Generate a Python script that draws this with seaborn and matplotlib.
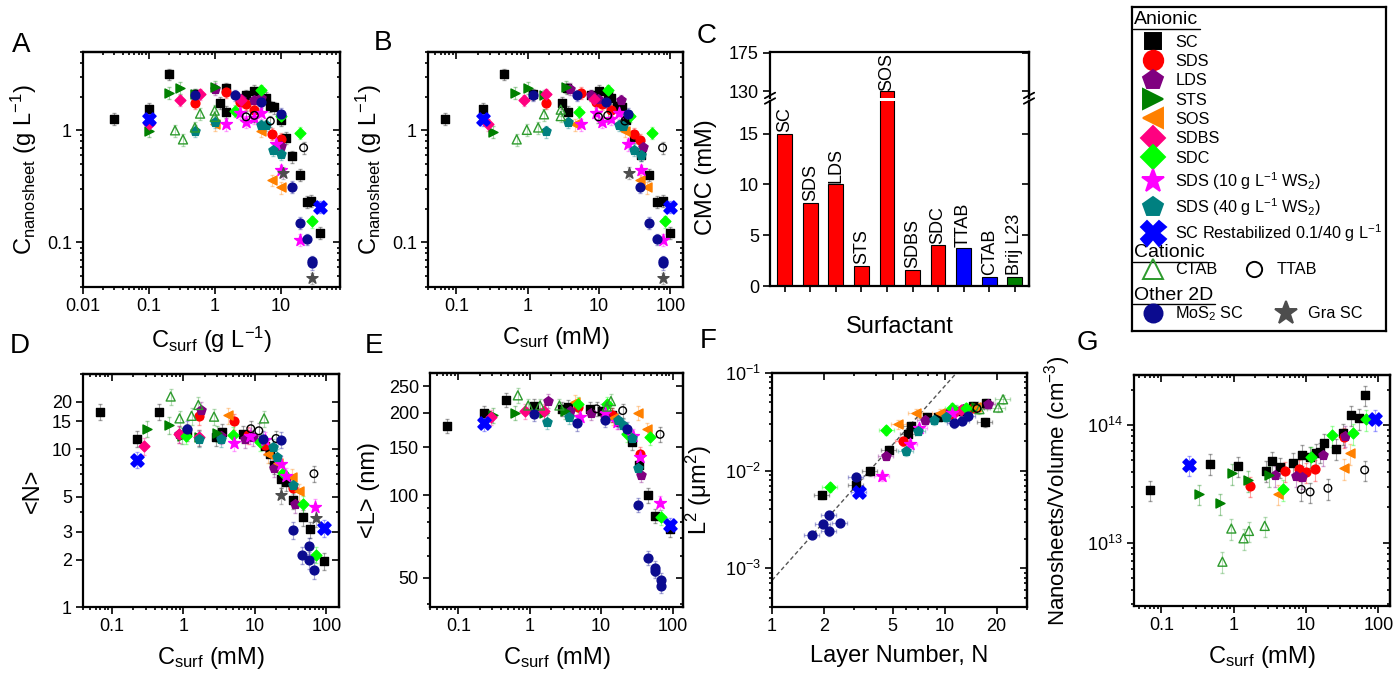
import numpy as np
import pandas as pd
import matplotlib
matplotlib.use('Agg')
import matplotlib.pyplot as plt
from matplotlib.lines import Line2D
from matplotlib.ticker import NullFormatter
import seaborn as sns

# ---------------- data ----------------
# Panel A: C_nanosheet (g/L) vs C_surf (g/L)
a_sc = [(0.03, 1.27), (0.1, 1.56), (0.2, 3.17), (0.5, 2.1), (1.2, 1.76), (1.5, 2.38), (1.5, 1.46), (3, 2.06),
        (4, 2.25), (6, 1.96), (7, 1.64), (8, 1.6), (10, 1.23), (12, 0.86), (15, 0.585), (20, 0.403),
        (25, 0.231), (29, 0.235), (40, 0.122)]
a_sds = [(0.5, 1.76), (1.5, 2.2), (2.4, 1.79), (3, 1.71), (4, 1.51), (7.5, 0.93), (10, 0.84)]
a_lds = [(1.0, 2.36), (2.5, 1.9), (4, 1.85), (5, 1.95), (10, 0.72)]
a_sts = [(0.1, 0.99), (0.2, 2.16), (0.3, 2.39), (0.5, 2.1), (1.0, 2.44)]
a_sos = [(1.0, 1.13), (5, 0.99), (7.5, 0.36), (10, 0.31)]
a_sdbs = [(0.1, 1.15), (0.3, 1.86), (0.6, 2.1), (2.5, 1.88)]
a_sdc = [(2, 1.49), (5, 2.28), (10, 1.34), (20, 0.95), (30, 0.154)]
a_sds10 = [(1.5, 1.13), (2.4, 1.43), (3, 1.19), (4, 1.29), (5, 1.43), (8.5, 0.75), (10, 0.44), (20, 0.106)]
a_sds40 = [(0.5, 0.99), (1.0, 1.19), (5, 1.11), (6, 1.11), (7.8, 0.67), (10, 0.62)]
a_scr = [(0.1, 1.25), (40, 0.209)]
a_ctab = [(0.25, 1.0), (0.33, 0.83), (0.5, 1.06), (0.6, 1.41), (1.0, 1.5), (1.0, 1.32)]
a_ttab = [(3, 1.32), (4, 1.36), (7, 1.21), (22.4, 0.7)]
a_mos2 = [(0.5, 2.06), (2, 2.06), (5, 1.79), (10, 1.4), (15, 0.315), (20, 0.149), (25, 0.107), (30, 0.068),
          (30, 0.065)]
a_gra = [(11, 0.42), (30, 0.048)]

# Panel B: C_nanosheet (g/L) vs C_surf (mM)
b_sc = [(0.07, 1.27), (0.233, 1.56), (0.47, 3.17), (1.18, 2.1), (3.0, 1.76), (3.5, 2.38), (3.65, 1.46),
        (7.6, 2.06), (10, 2.25), (13.2, 2.06), (14.7, 1.96), (17.9, 1.64), (21, 1.6), (24, 1.23),
        (30.6, 0.87), (39, 0.6), (50.7, 0.4), (64.6, 0.23), (77.6, 0.235), (100, 0.122)]
b_sds = [(1.83, 1.76), (5.5, 2.16), (9, 1.79), (10.9, 1.73), (14.7, 1.51), (30.6, 0.93), (38, 0.82)]
b_lds = [(3.9, 2.36), (7.6, 2.06), (9.8, 1.9), (20, 1.86), (40.6, 0.71)]
b_sts = [(0.33, 0.97), (0.66, 2.16), (1.0, 2.39), (1.7, 2.06), (3.4, 2.44)]
b_sos = [(4.6, 1.13), (22.8, 0.99), (37, 0.36), (47, 0.31)]
b_sdbs = [(0.28, 1.13), (0.88, 1.86), (1.83, 2.1), (8.6, 1.9)]
b_sdc = [(5.2, 1.46), (13.2, 2.28), (26.8, 1.34), (54.7, 0.95), (83, 0.154)]
b_sds10 = [(5.5, 1.13), (9, 1.43), (11.1, 1.19), (14.7, 1.27), (19.3, 1.43), (25.4, 0.75), (38.5, 0.44),
           (78.5, 0.106)]
b_sds40 = [(1.83, 0.98), (3.7, 1.19), (19.3, 1.11), (21.5, 1.09), (30.6, 0.67), (39, 0.6)]
b_scr = [(0.233, 1.25), (100, 0.209)]
b_ctab = [(0.7, 0.83), (0.97, 1.01), (1.4, 1.06), (1.69, 1.39), (2.9, 1.53), (2.9, 1.34)]
b_ttab = [(9.8, 1.32), (13.2, 1.36), (23, 1.21), (77.6, 0.7)]
b_mos2 = [(1.18, 2.06), (4.9, 2.06), (12.4, 1.79), (25.4, 1.41), (38, 0.315), (50.7, 0.149), (64.6, 0.107),
          (77.6, 0.068), (77.6, 0.065)]
b_gra = [(26.2, 0.42), (77.6, 0.048)]

# Panel C: CMC bar chart
cmc_names = ['SC', 'SDS', 'LDS', 'STS', 'SOS', 'SDBS', 'SDC', 'TTAB', 'CTAB', 'Brij L23']
cmc_values = [15, 8.2, 10, 2, 130, 1.6, 4, 3.7, 0.9, 0.9]
cmc_colors = ['#FF0000'] * 7 + ['#0000FF', '#0000FF', '#008000']

# Panel D: <N> vs C_surf (mM)
d_sc = [(0.07, 17.3), (0.23, 11.7), (0.46, 17.3), (1.14, 12.9), (2.86, 11.9), (3.5, 12.9), (6.8, 12.5),
        (13.8, 10.5), (16.2, 9.3), (18.5, 7.95), (22.9, 6.44), (27.2, 6.2), (34.6, 4.76), (46.8, 3.7),
        (59.4, 3.1), (91.6, 1.95)]
d_sds = [(1.67, 16.3), (5.2, 15.0), (8, 12.3), (13.8, 10.6), (34.6, 5.7)]
d_lds = [(0.87, 12.5), (1.77, 17.8), (3.4, 12.2), (7.2, 11.6), (9.4, 11.9), (18.5, 7.6), (36.4, 4.5)]
d_sts = [(0.31, 13.5), (0.63, 14.2), (0.97, 12.2), (1.67, 11.9), (3.0, 12.6)]
d_sos = [(4.2, 16.4), (15.5, 9.3), (21.2, 8.2), (33.5, 6.7), (42, 5.4)]
d_sdbs = [(0.28, 10.5), (0.87, 12.5), (1.67, 11.9)]
d_sdc = [(1.08, 12.2), (4.9, 12.3), (12, 11.1), (25, 7.1), (47.9, 4.5), (72, 2.15)]
d_sds10 = [(5.2, 11.0), (8.5, 12.2), (13.8, 11.5), (22.9, 8.1), (27.2, 6.8), (68.4, 4.3)]
d_sds40 = [(1.67, 11.7), (3.4, 11.7), (17.7, 10.3), (20.6, 8.9), (34.6, 5.9)]
d_scr = [(0.23, 8.6), (91.6, 3.18)]
d_ctab = [(0.67, 21.6), (0.89, 15.7), (1.31, 16.3), (1.63, 19.1), (2.7, 16.1), (13.5, 15.7)]
d_ttab = [(8.8, 13.5), (11.4, 13.1), (19.8, 11.7), (67, 7.0)]
d_mos2 = [(1.14, 13.4), (13.1, 11.6), (22.9, 11.5), (34.6, 3.07), (46, 2.14), (57, 2.45), (57, 1.98), (68, 1.71)]
d_gra = [(23.6, 5.1), (72, 3.66)]

# Panel E: <L> (nm) vs C_surf (mM)
e_sc = [(0.069, 179), (0.229, 200), (0.465, 223), (1.15, 212), (2.8, 207), (3.47, 211), (7, 207), (10.2, 203),
        (14, 197), (26.7, 156), (34.2, 129), (45.7, 100), (56.6, 84), (91.8, 75)]
e_sds = [(4.8, 211), (14, 197), (35, 142)]
e_lds = [(1.82, 222), (3.6, 204), (7.3, 200), (11.3, 194), (17.2, 186), (36, 119)]
e_sts = [(0.31, 196), (0.62, 200), (1.6, 200), (3.1, 203)]
e_sos = [(4.3, 219), (14.8, 192), (32.4, 200), (43.3, 174)]
e_sdbs = [(0.29, 193), (0.86, 203), (1.6, 203)]
e_sdc = [(4.7, 215), (12.2, 215), (22.7, 167), (48.2, 163), (68.7, 83)]
e_sds10 = [(5.0, 194), (11.3, 200), (16.4, 186), (28.3, 165), (35, 138), (66.8, 94)]
e_sds40 = [(1.72, 186), (3.5, 194), (17.2, 189), (20, 180), (26.7, 162), (33, 126)]
e_scr = [(0.229, 183), (91.8, 78)]
e_ctab = [(0.68, 232), (0.95, 213), (1.39, 213), (2.6, 213), (12, 211), (13.7, 221)]
e_ttab = [(8.6, 207), (20, 204), (66.8, 167)]
e_mos2 = [(1.15, 198), (4.6, 183), (11.3, 189), (22.7, 175), (33, 92), (45.7, 59), (56.6, 53), (56.6, 54),
          (68.7, 48.8), (68.7, 46.7)]

# Panel F: L^2 (um^2) vs layer number N
f_sc = [(1.95, 5.65e-3), (3.08, 7.1e-3), (3.68, 9.8e-3), (4.74, 0.0164), (6.1, 0.0237), (6.4, 0.0288),
        (7.9, 0.035), (9.1, 0.0357), (12.2, 0.041), (14.6, 0.0461), (17.1, 0.0311), (17.4, 0.0498)]
f_sds = [(5.74, 0.02), (10.7, 0.0379), (14.6, 0.0443)]
f_lds = [(4.55, 0.0142), (7.7, 0.0329), (10.2, 0.0379), (12.8, 0.0426), (17.8, 0.0479)]
f_sts = [(11.7, 0.043), (15.2, 0.045)]
f_sos = [(5.4, 0.0299), (6.85, 0.0385), (9.4, 0.039), (15.2, 0.045)]
f_sdbs = [(11.5, 0.04), (12.5, 0.042)]
f_sdc = [(2.16, 6.76e-3), (4.6, 0.026), (11.1, 0.0443), (13.3, 0.0443)]
f_sds10 = [(4.35, 8.75e-3), (6.3, 0.0187), (7.15, 0.027), (11.1, 0.0391)]
f_sds40 = [(6.0, 0.0157), (7.0, 0.0256), (8.7, 0.0329), (10.2, 0.035)]
f_scr = [(3.2, 6.1e-3)]
f_ctab = [(15.9, 0.0426), (20.4, 0.0443), (21.8, 0.0538)]
f_ttab = [(15.4, 0.0433)]
f_mos2 = [(1.7, 2.2e-3), (1.97, 2.86e-3), (2.14, 3.48e-3), (2.14, 2.4e-3), (2.47, 2.93e-3), (3.08, 8.5e-3),
          (11.4, 0.0304), (12.6, 0.0323), (13.6, 0.0365)]
f_fit_n = [1, 11.7]
f_fit_l2 = [7.5e-4, 0.1]

# Panel G: nanosheets per volume vs C_surf (mM)
g_sc = [(0.071, 2.8e13), (0.47, 4.7e13), (1.15, 4.5e13), (2.83, 4.1e13), (3.43, 4.9e13), (4.4, 4.4e13),
        (6.6, 4.8e13), (8.9, 5.6e13), (11.2, 5.4e13), (13.6, 5.75e13), (15.5, 5.9e13), (17.5, 7.0e13),
        (26.2, 6.3e13), (32.5, 8.5e13), (42.4, 1.22e14), (54, 1.14e14), (64.7, 1.8e14)]
g_sds = [(1.7, 3.03e13), (5.07, 4.07e13), (8, 4.2e13), (10.1, 4.0e13), (13.2, 4.2e13), (33.3, 7.9e13)]
g_lds = [(3.7, 3.75e13), (7.2, 3.7e13), (8.9, 3.6e13), (17.2, 5.6e13), (34.3, 8.1e13)]
g_sts = [(0.33, 2.6e13), (0.64, 2.16e13), (0.95, 3.9e13), (1.57, 3.4e13), (3.1, 3.75e13)]
g_sos = [(4.1, 2.6e13), (33.3, 4.3e13), (40, 5.75e13)]
g_sdc = [(4.8, 2.84e13), (11.9, 5.4e13), (23.1, 8.2e13), (44.7, 8.5e13), (68.2, 1.12e14)]
g_scr = [(0.238, 4.57e13), (89, 1.12e14)]
g_ctab = [(0.7, 6.9e12), (0.93, 1.32e13), (1.37, 1.09e13), (1.63, 1.26e13), (2.69, 1.39e13)]
g_ttab = [(8.6, 2.84e13), (11.4, 2.7e13), (20.1, 2.9e13), (64.7, 4.15e13)]

# ---------------- marker styles ----------------
STYLES = {
    'SC': dict(color='#000000', marker='s', s=30, ms=12, open=False),
    'SDS': dict(color='#FF0000', marker='o', s=40, ms=14, open=False),
    'LDS': dict(color='#800080', marker='p', s=48, ms=15, open=False),
    'STS': dict(color='#008000', marker='>', s=42, ms=15, open=False),
    'SOS': dict(color='#FF8000', marker='<', s=42, ms=15, open=False),
    'SDBS': dict(color='#FF0080', marker='D', s=30, ms=12, open=False),
    'SDC': dict(color='#00FF00', marker='D', s=30, ms=12, open=False),
    'SDS10': dict(color='#FF00FF', marker='*', s=80, ms=17, open=False),
    'SDS40': dict(color='#008080', marker='p', s=48, ms=15, open=False),
    'SCR': dict(color='#0000FF', marker='X', s=90, ms=18, open=False),
    'CTAB': dict(color='#2E9B2E', marker='^', s=42, ms=14, open=True),
    'TTAB': dict(color='#000000', marker='o', s=30, ms=11, open=True),
    'MOS2': dict(color='#0B0B8F', marker='o', s=40, ms=13, open=False),
    'GRA': dict(color='#4D4D4D', marker='*', s=70, ms=17, open=False),
}

sns.set_style('ticks', rc={'axes.edgecolor': 'black', 'xtick.color': 'black', 'ytick.color': 'black',
                           'text.color': 'black', 'axes.labelcolor': 'black'})
plt.rcParams['font.family'] = ['Liberation Sans', 'DejaVu Sans']
plt.rcParams['mathtext.default'] = 'regular'
plt.rcParams['axes.linewidth'] = 1.6

W, H = 1395, 673


def px_rect(left, right, top, bottom):
    return [left / W, 1 - bottom / H, (right - left) / W, (bottom - top) / H]


def draw_series(ax, pts, key, xerr_frac=0.0, yerr_frac=0.12):
    st = STYLES[key]
    df = pd.DataFrame(pts, columns=['x', 'y'])
    xerr = df['x'] * xerr_frac if xerr_frac else None
    ax.errorbar(df['x'], df['y'], yerr=df['y'] * yerr_frac, xerr=xerr, fmt='none', ecolor=st['color'],
                alpha=0.35, elinewidth=0.8, capsize=1.5, zorder=1)
    face = 'none' if st['open'] else st['color']
    sns.scatterplot(data=df, x='x', y='y', ax=ax, marker=st['marker'], s=st['s'], color=st['color'],
                    facecolor=face, edgecolor=st['color'], linewidth=1.0, zorder=3, legend=False)


def mirror(ax, xticks, yticks):
    top = ax.secondary_xaxis('top')
    right = ax.secondary_yaxis('right')
    top.set_xticks(xticks)
    right.set_yticks(yticks)
    for sec, axis in ((top, top.xaxis), (right, right.yaxis)):
        axis.set_major_formatter(NullFormatter())
        axis.set_minor_formatter(NullFormatter())
        sec.tick_params(which='both', direction='in', width=1.2)
        sec.tick_params(which='major', length=5)
        sec.tick_params(which='minor', length=2.5)


def finish_log_axes(ax, xlim, ylim, xticks, xlabels, yticks, ylabels, xlabel, ylabel, ypad=6):
    ax.set_xscale('log')
    ax.set_yscale('log')
    ax.set_xlim(*xlim)
    ax.set_ylim(*ylim)
    ax.set_xticks(xticks, xlabels)
    ax.set_yticks(yticks, ylabels)
    ax.xaxis.set_minor_formatter(NullFormatter())
    ax.yaxis.set_minor_formatter(NullFormatter())
    ax.tick_params(which='both', direction='out', labelsize=13, width=1.2, pad=3)
    ax.tick_params(which='major', length=5)
    ax.tick_params(which='minor', length=2.5)
    ax.set_xlabel(xlabel, fontsize=17, labelpad=7)
    ax.set_ylabel(ylabel, fontsize=17, labelpad=ypad)
    mirror(ax, xticks, yticks)


ORDER = ['SC', 'SDS', 'LDS', 'STS', 'SOS', 'SDBS', 'SDC', 'SDS10', 'SDS40', 'SCR', 'CTAB', 'TTAB', 'MOS2', 'GRA']

fig = plt.figure(figsize=(W / 100, H / 100), dpi=100)

# ---- A ----
ax_a = fig.add_axes(px_rect(83, 340, 52, 287))
ax_a.set_xscale('log'); ax_a.set_yscale('log')
panel_a = {'SC': a_sc, 'SDS': a_sds, 'LDS': a_lds, 'STS': a_sts, 'SOS': a_sos, 'SDBS': a_sdbs, 'SDC': a_sdc,
           'SDS10': a_sds10, 'SDS40': a_sds40, 'SCR': a_scr, 'CTAB': a_ctab, 'TTAB': a_ttab, 'MOS2': a_mos2,
           'GRA': a_gra}
for k in ORDER:
    if k in panel_a:
        draw_series(ax_a, panel_a[k], k)
finish_log_axes(ax_a, (0.01, 80), (0.04, 5), [0.01, 0.1, 1, 10], ['0.01', '0.1', '1', '10'],
                [0.1, 1], ['0.1', '1'], 'C$_{surf}$ (g L$^{-1}$)', 'C$_{nanosheet}$ (g L$^{-1}$)')

# ---- B ----
ax_b = fig.add_axes(px_rect(428, 683, 52, 287))
ax_b.set_xscale('log'); ax_b.set_yscale('log')
panel_b = {'SC': b_sc, 'SDS': b_sds, 'LDS': b_lds, 'STS': b_sts, 'SOS': b_sos, 'SDBS': b_sdbs, 'SDC': b_sdc,
           'SDS10': b_sds10, 'SDS40': b_sds40, 'SCR': b_scr, 'CTAB': b_ctab, 'TTAB': b_ttab, 'MOS2': b_mos2,
           'GRA': b_gra}
for k in ORDER:
    if k in panel_b:
        draw_series(ax_b, panel_b[k], k)
finish_log_axes(ax_b, (0.04, 150), (0.04, 5), [0.1, 1, 10, 100], ['0.1', '1', '10', '100'],
                [0.1, 1], ['0.1', '1'], 'C$_{surf}$ (mM)', 'C$_{nanosheet}$ (g L$^{-1}$)')

# ---- C (broken y axis) ----
ax_ct = fig.add_axes(px_rect(770, 1029, 52, 98))
ax_cb = fig.add_axes(px_rect(770, 1029, 101, 286))
for ax in (ax_ct, ax_cb):
    sns.barplot(x=cmc_names, y=cmc_values, hue=cmc_names, palette=cmc_colors, legend=False, ax=ax,
                width=0.58, edgecolor='black', linewidth=0.8, saturation=1, errorbar=None)
    ax.set_xlim(-0.58, 9.56)
    ax.set_xlabel('')
    ax.set_ylabel('')
ax_cb.set_ylim(0, 18.2)
ax_ct.set_ylim(122, 176)
ax_cb.spines['top'].set_visible(False)
ax_ct.spines['bottom'].set_visible(False)
ax_cb.set_yticks([0, 5, 10, 15])
ax_ct.set_yticks([130, 175])
ax_cb.tick_params(axis='x', labelbottom=False, direction='out', length=4, width=1.2)
ax_ct.tick_params(axis='x', bottom=False, labelbottom=False)
for ax, yt in ((ax_cb, [0, 5, 10, 15]), (ax_ct, [130, 175])):
    ax.tick_params(axis='y', direction='out', length=5, width=1.2, labelsize=13, pad=3)
    r = ax.secondary_yaxis('right')
    r.set_yticks(yt)
    r.yaxis.set_major_formatter(NullFormatter())
    r.tick_params(direction='in', length=5, width=1.2)
for i, (n, v) in enumerate(zip(cmc_names, cmc_values)):
    tgt = ax_ct if v > 18 else ax_cb
    off = 0.8 if v > 18 else 0.15
    tgt.text(i, v + off, n, rotation=90, ha='center', va='bottom', fontsize=13)
for xs in (0, 1):
    for dy in (0.0, 0.03):
        ax_cb.plot([xs - 0.02, xs + 0.02], [0.985 + dy, 1.015 + dy], transform=ax_cb.transAxes,
                   color='black', lw=1.3, clip_on=False)
fig.text(706 / W, 1 - 177 / H, 'CMC (mM)', rotation=90, ha='center', va='center', fontsize=17)
fig.text(900 / W, 1 - 327 / H, 'Surfactant', ha='center', va='center', fontsize=17)

# ---- D ----
ax_d = fig.add_axes(px_rect(83, 339, 374, 607))
ax_d.set_xscale('log'); ax_d.set_yscale('log')
panel_d = {'SC': d_sc, 'SDS': d_sds, 'LDS': d_lds, 'STS': d_sts, 'SOS': d_sos, 'SDBS': d_sdbs, 'SDC': d_sdc,
           'SDS10': d_sds10, 'SDS40': d_sds40, 'SCR': d_scr, 'CTAB': d_ctab, 'TTAB': d_ttab, 'MOS2': d_mos2,
           'GRA': d_gra}
for k in ORDER:
    if k in panel_d:
        draw_series(ax_d, panel_d[k], k)
finish_log_axes(ax_d, (0.04, 150), (1, 30), [0.1, 1, 10, 100], ['0.1', '1', '10', '100'],
                [1, 2, 3, 5, 10, 15, 20], ['1', '2', '3', '5', '10', '15', '20'], 'C$_{surf}$ (mM)', '<N>')

# ---- E ----
ax_e = fig.add_axes(px_rect(430, 683, 373, 607))
ax_e.set_xscale('log'); ax_e.set_yscale('log')
panel_e = {'SC': e_sc, 'SDS': e_sds, 'LDS': e_lds, 'STS': e_sts, 'SOS': e_sos, 'SDBS': e_sdbs, 'SDC': e_sdc,
           'SDS10': e_sds10, 'SDS40': e_sds40, 'SCR': e_scr, 'CTAB': e_ctab, 'TTAB': e_ttab, 'MOS2': e_mos2}
for k in ORDER:
    if k in panel_e:
        draw_series(ax_e, panel_e[k], k, yerr_frac=0.06)
finish_log_axes(ax_e, (0.04, 140), (39, 280), [0.1, 1, 10, 100], ['0.1', '1', '10', '100'],
                [50, 100, 150, 200, 250], ['50', '100', '150', '200', '250'], 'C$_{surf}$ (mM)', '<L> (nm)')

# ---- F ----
ax_f = fig.add_axes(px_rect(772, 1027, 373, 607))
ax_f.set_xscale('log'); ax_f.set_yscale('log')
sns.lineplot(x=f_fit_n, y=f_fit_l2, ax=ax_f, color='#555555', linestyle=(0, (3, 2)), linewidth=1.0, zorder=2)
panel_f = {'SC': f_sc, 'SDS': f_sds, 'LDS': f_lds, 'STS': f_sts, 'SOS': f_sos, 'SDBS': f_sdbs, 'SDC': f_sdc,
           'SDS10': f_sds10, 'SDS40': f_sds40, 'SCR': f_scr, 'CTAB': f_ctab, 'TTAB': f_ttab, 'MOS2': f_mos2}
for k in ORDER:
    if k in panel_f:
        draw_series(ax_f, panel_f[k], k, xerr_frac=0.1, yerr_frac=0.1)
finish_log_axes(ax_f, (1, 30), (4e-4, 0.1), [1, 2, 5, 10, 20], ['1', '2', '5', '10', '20'],
                [1e-3, 1e-2, 1e-1], ['10$^{-3}$', '10$^{-2}$', '10$^{-1}$'], 'Layer Number, N',
                'L$^2$ (μm$^2$)', ypad=8)

# ---- G ----
ax_g = fig.add_axes(px_rect(1134, 1390, 375, 606))
ax_g.set_xscale('log'); ax_g.set_yscale('log')
panel_g = {'SC': g_sc, 'SDS': g_sds, 'LDS': g_lds, 'STS': g_sts, 'SOS': g_sos, 'SDC': g_sdc, 'SCR': g_scr,
           'CTAB': g_ctab, 'TTAB': g_ttab}
for k in ORDER:
    if k in panel_g:
        draw_series(ax_g, panel_g[k], k, yerr_frac=0.2)
finish_log_axes(ax_g, (0.042, 145), (2.9e12, 2.66e14), [0.1, 1, 10, 100], ['0.1', '1', '10', '100'],
                [1e13, 1e14], ['10$^{13}$', '10$^{14}$'], 'C$_{surf}$ (mM)', 'Nanosheets/Volume (cm$^{-3}$)',
                ypad=10)
ax_g.yaxis.label.set_fontsize(16)

# ---- legend box ----
ax_l = fig.add_axes(px_rect(1132, 1386, 7, 331))
ax_l.set_xticks([]); ax_l.set_yticks([])
ax_l.set_xlim(0, 1); ax_l.set_ylim(0, 1)


def handle(key):
    st = STYLES[key]
    return Line2D([], [], linestyle='none', marker=st['marker'], markersize=st['ms'],
                  markerfacecolor='none' if st['open'] else st['color'], markeredgecolor=st['color'],
                  markeredgewidth=1.4)


anionic_keys = ['SC', 'SDS', 'LDS', 'STS', 'SOS', 'SDBS', 'SDC', 'SDS10', 'SDS40', 'SCR']
anionic_labels = ['SC', 'SDS', 'LDS', 'STS', 'SOS', 'SDBS', 'SDC', 'SDS (10 g L$^{-1}$ WS$_2$)',
                  'SDS (40 g L$^{-1}$ WS$_2$)', 'SC Restabilized 0.1/40 g L$^{-1}$']
cationic_keys = ['CTAB', 'TTAB']
other_keys = ['MOS2', 'GRA']
other_labels = ['MoS$_2$ SC', 'Gra SC']

common = dict(loc='upper left', frameon=False, fontsize=11.7, borderpad=0, borderaxespad=0,
              handlelength=1.9, handletextpad=0.45, labelspacing=0.27)
leg1 = ax_l.legend([handle(k) for k in anionic_keys], anionic_labels, bbox_to_anchor=(0.02, 0.915), **common)
ax_l.add_artist(leg1)
leg2 = ax_l.legend([handle(k) for k in cationic_keys], cationic_keys, bbox_to_anchor=(0.02, 0.212), ncol=2,
                   columnspacing=1.3, **common)
ax_l.add_artist(leg2)
ax_l.legend([handle(k) for k in other_keys], other_labels, bbox_to_anchor=(0.02, 0.082), ncol=2,
            columnspacing=1.6, **common)

for title, y, x_end in (('Anionic', 0.96, 0.268), ('Cationic', 0.241, 0.295), ('Other 2D', 0.111, 0.327)):
    ax_l.text(0.008, y, title, ha='left', va='center', fontsize=14, transform=ax_l.transAxes)
    ax_l.plot([0.004, x_end], [y - 0.028, y - 0.028], color='black', lw=1.0, transform=ax_l.transAxes)

# ---- panel letters ----
for letter, x, y in (('A', 21, 45), ('B', 383, 43), ('C', 707, 36), ('D', 20, 346), ('E', 374, 346),
                     ('F', 708, 341), ('G', 1087, 343)):
    fig.text(x / W, 1 - y / H, letter, ha='center', va='center', fontsize=20)

fig.savefig('out.png', dpi=100)
